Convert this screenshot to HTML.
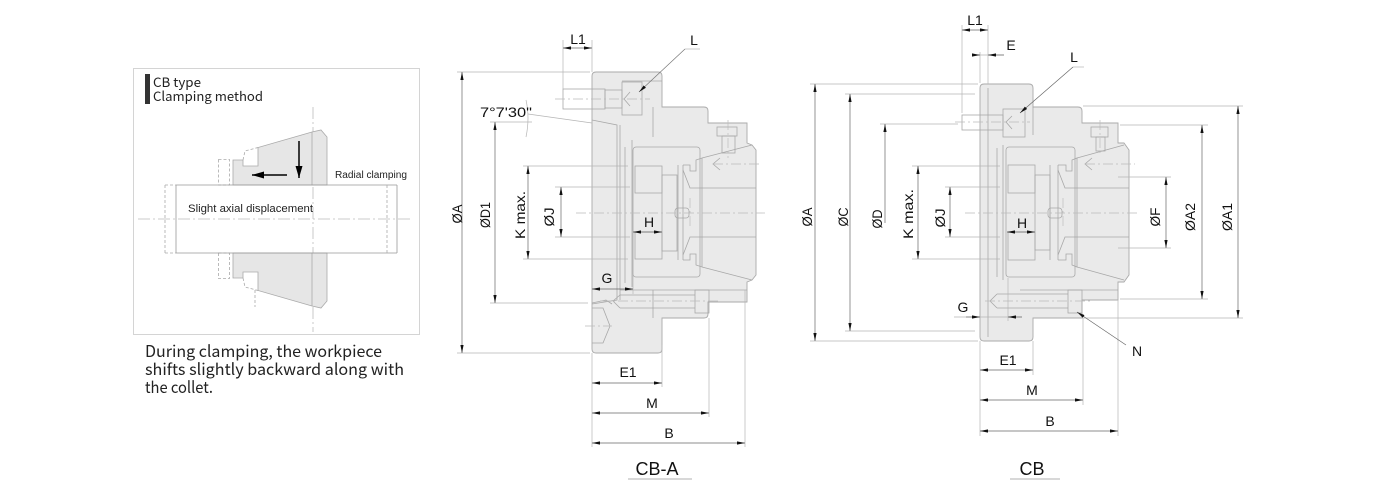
<!DOCTYPE html>
<html><head><meta charset="utf-8"><style>
html,body{margin:0;padding:0;background:#fff;}
svg{display:block;}
</style></head><body>
<svg width="1376" height="501" viewBox="0 0 1376 501" xmlns="http://www.w3.org/2000/svg">
<defs>
<marker id="a" viewBox="0 0 8 6" refX="8" refY="3" markerWidth="8" markerHeight="6" markerUnits="userSpaceOnUse" orient="auto-start-reverse"><path d="M0,1.4 L8,3 L0,4.6z" fill="#111"/></marker>
<marker id="big" viewBox="0 0 12 8" refX="12" refY="4" markerWidth="12" markerHeight="8" markerUnits="userSpaceOnUse" orient="auto-start-reverse"><path d="M0,0.5 L12,4 L0,7.5z" fill="#000"/></marker>
</defs>
<rect width="1376" height="501" fill="#fff"/>

<!-- ============ LEFT PANEL ============ -->
<rect x="133.5" y="68.5" width="286" height="266" fill="none" stroke="#d4d4d4" stroke-width="1"/>
<rect x="145" y="74" width="5" height="30" fill="#333"/>
<text x="153" y="87" font-family="'Noto Sans CJK JP','Liberation Sans',sans-serif" font-size="13" fill="#222" textLength="48" lengthAdjust="spacingAndGlyphs">CB type</text>
<text x="153" y="101" font-family="'Noto Sans CJK JP','Liberation Sans',sans-serif" font-size="13" fill="#222" textLength="110" lengthAdjust="spacingAndGlyphs">Clamping method</text>

<!-- center lines -->
<line x1="138" y1="219" x2="410" y2="219" stroke="#bbb" stroke-width="0.8" stroke-dasharray="12,3,2,3"/>
<line x1="313" y1="107" x2="313" y2="332" stroke="#bbb" stroke-width="0.8" stroke-dasharray="12,3,2,3"/>

<!-- collet upper -->
<path d="M233,185 L233,160 L243,160 L243,166 L258,166 L258,147.5 L312,132 L321,130 L327,137 L327,185 Z" fill="#e6e6e6" stroke="#aaa" stroke-width="0.8"/>
<path d="M233,253 L233,278 L243,278 L243,272 L258,272 L258,290.5 L312,306 L321,308 L327,301 L327,253 Z" fill="#e6e6e6" stroke="#aaa" stroke-width="0.8"/>
<g fill="none" stroke="#aaa" stroke-width="0.8" stroke-dasharray="3,2">
 <rect x="218.5" y="159.5" width="11" height="25.5"/>
 <rect x="218.5" y="253" width="11" height="25.5"/>
 <path d="M243,160 L245,151 L258,147.5"/>
 <path d="M243,278 L245,287 L258,290.5"/>
 <line x1="255" y1="290" x2="255" y2="307"/>
</g>
<line x1="312" y1="132" x2="312" y2="185" stroke="#aaa" stroke-width="0.8"/>
<line x1="312" y1="253" x2="312" y2="306" stroke="#aaa" stroke-width="0.8"/>

<!-- workpiece -->
<g fill="none" stroke="#999" stroke-width="0.8">
 <line x1="176" y1="185" x2="397" y2="185"/>
 <line x1="176" y1="253" x2="397" y2="253"/>
 <line x1="176" y1="185" x2="176" y2="253"/>
 <line x1="397" y1="185" x2="397" y2="253"/>
</g>
<g fill="none" stroke="#aaa" stroke-width="0.8" stroke-dasharray="3,2">
 <line x1="165" y1="185" x2="176" y2="185"/>
 <line x1="165" y1="253" x2="176" y2="253"/>
 <line x1="165" y1="185" x2="165" y2="253"/>
 <line x1="387" y1="185" x2="387" y2="253"/>
</g>
<!-- arrows -->
<line x1="299" y1="141" x2="299" y2="178" stroke="#000" stroke-width="1.5" marker-end="url(#big)"/>
<line x1="287" y1="175" x2="252" y2="175" stroke="#000" stroke-width="1.5" marker-end="url(#big)"/>

<text x="335" y="178" font-family="'Liberation Sans',sans-serif" font-size="10" fill="#222" textLength="72" lengthAdjust="spacingAndGlyphs">Radial clamping</text>
<text x="188" y="212" font-family="'Liberation Sans',sans-serif" font-size="11.3" fill="#222" textLength="125" lengthAdjust="spacingAndGlyphs">Slight axial displacement</text>

<g font-family="'Noto Sans CJK JP','Liberation Sans',sans-serif" font-size="16" fill="#222">
<text x="145" y="357" textLength="237" lengthAdjust="spacingAndGlyphs">During clamping, the workpiece</text>
<text x="145" y="375" textLength="259" lengthAdjust="spacingAndGlyphs">shifts slightly backward along with</text>
<text x="145" y="393" textLength="68" lengthAdjust="spacingAndGlyphs">the collet.</text>
</g>

<!-- ============ CB-A ============ -->
<path d="M592,76 Q592,72 596,72 L658,72 Q662,72 662,76 L662,107 L704,107 Q708,107 708,111 L708,123 L747,123 L747,143 L752,145 L756,150 L756,275 L752,280 L747,282 L747,302 L708,302 L708,314 Q708,318 704,318 L662,318 L662,349 Q662,353 658,353 L596,353 Q592,353 592,349 Z" fill="#eaeaea" stroke="#aaa" stroke-width="0.9"/>
<g fill="none" stroke="#a8a8a8" stroke-width="0.8">
 <path d="M592,120 L617,125 L617,300 L592,304"/>
 <line x1="620" y1="125" x2="620" y2="300"/>
 <line x1="625" y1="147" x2="625" y2="283"/>
 <line x1="632" y1="140" x2="632" y2="287"/>
 <rect x="633" y="147" width="67" height="130" rx="3"/>
 <rect x="635" y="166" width="27" height="27"/>
 <rect x="635" y="232" width="27" height="27"/>
 <rect x="662" y="175" width="15" height="76"/>
 <path d="M678,165 L678,260 M683,165 L683,260"/>
 <path d="M683,165 L690,165 L690,171 L696,171 L696,160 L702,158 L702,267 L696,265 L696,254 L690,254 L690,260 L683,260"/>
 <path d="M683,170 L690,188 L756,188 M683,255 L690,237 L756,237"/>
 <path d="M702,158 L752,145 M702,267 L752,280"/>
 <rect x="675" y="208" width="14" height="10" rx="3"/>
 <line x1="653" y1="107" x2="653" y2="137"/>
 <line x1="653" y1="290" x2="653" y2="318"/>
 <line x1="622" y1="81" x2="662" y2="81"/>
 <line x1="620" y1="290" x2="747" y2="290"/>
 <!-- top bolt -->
 <rect x="563" y="89" width="42" height="20"/>
 <rect x="605" y="90" width="17" height="18"/>
 <rect x="622" y="82" width="20" height="33"/>
 <path d="M630,92 L624,99 L630,106"/>
 <!-- right screw -->
 <rect x="717" y="127" width="20" height="9"/>
 <rect x="722" y="136" width="13" height="17"/>
 <path d="M720,158 L713,164 L720,170"/>
 <!-- bottom bolt -->
 <path d="M620,295 L695,295 M620,308 L695,308 M613,301 L620,295 M613,301 L620,308"/>
 <rect x="695" y="290" width="14" height="23"/>
 <!-- bottom socket -->
 <path d="M592,308 L603,308 L610,326 L603,343 L592,343"/>
 <path d="M592,303 L606,300 L612,304"/>
</g>
<g fill="none" stroke="#bbb" stroke-width="0.7" stroke-dasharray="10,3,2,3">
 <line x1="576" y1="213" x2="765" y2="213"/>
 <line x1="555" y1="99" x2="650" y2="99"/>
 <line x1="713" y1="164" x2="762" y2="164"/>
 <line x1="728" y1="120" x2="728" y2="158"/>
 <line x1="600" y1="301" x2="720" y2="301"/>
 <line x1="585" y1="326" x2="612" y2="326"/>
 <line x1="690" y1="198" x2="690" y2="228"/>
</g>

<!-- CB-A extension lines -->
<g stroke="#b5b5b5" stroke-width="0.7" fill="none">
 <line x1="457" y1="72" x2="590" y2="72"/>
 <line x1="457" y1="353" x2="590" y2="353"/>
 <line x1="490" y1="122" x2="532" y2="122"/>
 <line x1="528" y1="114" x2="592" y2="123"/>
 <path d="M526,100 Q530,118 526,137"/>
 <line x1="490" y1="303" x2="588" y2="303"/>
 <line x1="523" y1="166" x2="628" y2="166"/>
 <line x1="523" y1="259" x2="628" y2="259"/>
 <line x1="555" y1="187" x2="630" y2="187"/>
 <line x1="555" y1="237" x2="630" y2="237"/>
 <line x1="563" y1="40" x2="563" y2="89"/>
 <line x1="592" y1="40" x2="592" y2="72"/>
 <line x1="592" y1="353" x2="592" y2="447"/>
 <line x1="662" y1="345" x2="662" y2="387"/>
 <line x1="709" y1="318" x2="709" y2="417"/>
 <line x1="745" y1="290" x2="745" y2="447"/>
 <line x1="633" y1="270" x2="633" y2="294"/>
 <line x1="685" y1="49" x2="700" y2="49"/>
</g>
<!-- CB-A dimension lines -->
<g stroke="#666" stroke-width="0.7" fill="none" marker-start="url(#a)" marker-end="url(#a)">
 <line x1="563" y1="48" x2="592" y2="48"/>
 <line x1="462" y1="72" x2="462" y2="353"/>
 <line x1="495" y1="122" x2="495" y2="303"/>
 <line x1="528" y1="166" x2="528" y2="259"/>
 <line x1="561" y1="187" x2="561" y2="237"/>
 <line x1="633" y1="232" x2="662" y2="232"/>
 <line x1="592" y1="289" x2="633" y2="289"/>
 <line x1="592" y1="383" x2="662" y2="383"/>
 <line x1="592" y1="413" x2="709" y2="413"/>
 <line x1="592" y1="443" x2="745" y2="443"/>
</g>
<line x1="685" y1="49" x2="639" y2="92" stroke="#777" stroke-width="0.7" marker-end="url(#a)"/>
<line x1="628" y1="479" x2="692" y2="479" stroke="#999" stroke-width="0.8"/>

<g font-family="'Liberation Sans',sans-serif" font-size="14" fill="#111" text-anchor="middle">
 <text x="578" y="44">L1</text>
 <text x="694" y="45">L</text>
 <text x="506" y="117" textLength="52" lengthAdjust="spacingAndGlyphs">7°7'30"</text>
 <text x="649" y="227">H</text>
 <text x="607" y="283">G</text>
 <text x="628" y="377">E1</text>
 <text x="652" y="408">M</text>
 <text x="669" y="438">B</text>
 <text x="657" y="475" font-size="18">CB-A</text>
 <text transform="translate(462,214) rotate(-90)" textLength="19" lengthAdjust="spacingAndGlyphs">ØA</text>
 <text transform="translate(490,215) rotate(-90)" textLength="26" lengthAdjust="spacingAndGlyphs">ØD1</text>
 <text transform="translate(525,215) rotate(-90)" textLength="48" lengthAdjust="spacingAndGlyphs">K max.</text>
 <text transform="translate(554,217) rotate(-90)" textLength="19" lengthAdjust="spacingAndGlyphs">ØJ</text>
</g>

<!-- ============ CB ============ -->
<path d="M980,88 Q980,84 984,84 L1029,84 Q1033,84 1033,88 L1033,107 L1078,107 Q1082,107 1082,111 L1082,123 L1118,123 L1118,143 L1124,143 L1129,150 L1129,275 L1124,282 L1118,282 L1118,300 L1082,300 L1082,318 L1033,318 L1033,337 Q1033,341 1029,341 L984,341 Q980,341 980,337 Z" fill="#eaeaea" stroke="#aaa" stroke-width="0.9"/>
<g fill="none" stroke="#a8a8a8" stroke-width="0.8">
 <line x1="988" y1="88" x2="988" y2="337"/>
 <line x1="997" y1="148" x2="997" y2="277"/>
 <line x1="1003" y1="145" x2="1003" y2="280"/>
 <rect x="1006" y="147" width="69" height="130" rx="3"/>
 <rect x="1008" y="165" width="27" height="28"/>
 <rect x="1008" y="232" width="27" height="28"/>
 <rect x="1035" y="175" width="15" height="75"/>
 <path d="M1050,165 L1050,260 M1058,165 L1058,260"/>
 <path d="M1058,165 L1066,165 L1066,171 L1072,171 L1072,160 L1077,158 L1077,267 L1072,265 L1072,254 L1066,254 L1066,260 L1058,260"/>
 <path d="M1058,170 L1065,188 L1129,188 M1058,255 L1065,237 L1129,237"/>
 <path d="M1077,158 L1124,145 M1077,267 L1124,280"/>
 <rect x="1048" y="208" width="14" height="10" rx="3"/>
 <line x1="1033" y1="107" x2="1033" y2="135"/>
 <line x1="1020" y1="290" x2="1118" y2="290"/>
 <!-- top bolt -->
 <rect x="962" y="115" width="41" height="15"/>
 <rect x="1003" y="109" width="22" height="28"/>
 <path d="M1012,116 L1006,122 L1012,129"/>
 <!-- right screw -->
 <rect x="1091" y="127" width="17" height="10"/>
 <rect x="1096" y="137" width="9" height="14"/>
 <path d="M1092,158 L1085,164 L1092,170"/>
 <!-- bottom bolt -->
 <path d="M997,294 L1068,294 M997,308 L1068,308 M990,301 L997,294 M990,301 L997,308"/>
 <rect x="1068" y="290" width="14" height="23"/>
</g>
<g fill="none" stroke="#bbb" stroke-width="0.7" stroke-dasharray="10,3,2,3">
 <line x1="965" y1="213" x2="1140" y2="213"/>
 <line x1="955" y1="122" x2="1030" y2="122"/>
 <line x1="1085" y1="164" x2="1135" y2="164"/>
 <line x1="1100" y1="120" x2="1100" y2="156"/>
 <line x1="985" y1="301" x2="1090" y2="301"/>
 <line x1="1063" y1="198" x2="1063" y2="228"/>
</g>

<!-- CB extension lines -->
<g stroke="#b5b5b5" stroke-width="0.7" fill="none">
 <line x1="810" y1="84" x2="978" y2="84"/>
 <line x1="810" y1="341" x2="978" y2="341"/>
 <line x1="845" y1="94" x2="975" y2="94"/>
 <line x1="845" y1="331" x2="975" y2="331"/>
 <line x1="880" y1="124" x2="958" y2="124"/>
 <line x1="912" y1="166" x2="1000" y2="166"/>
 <line x1="912" y1="259" x2="1000" y2="259"/>
 <line x1="945" y1="187" x2="1000" y2="187"/>
 <line x1="945" y1="237" x2="1000" y2="237"/>
 <line x1="1118" y1="177" x2="1171" y2="177"/>
 <line x1="1118" y1="248" x2="1171" y2="248"/>
 <line x1="1120" y1="125" x2="1208" y2="125"/>
 <line x1="1120" y1="299" x2="1208" y2="299"/>
 <line x1="1083" y1="106" x2="1243" y2="106"/>
 <line x1="1083" y1="318" x2="1243" y2="318"/>
 <line x1="962" y1="25" x2="962" y2="113"/>
 <line x1="988" y1="25" x2="988" y2="84"/>
 <line x1="980" y1="52" x2="980" y2="83"/>
 <line x1="980" y1="341" x2="980" y2="436"/>
 <line x1="1033" y1="341" x2="1033" y2="375"/>
 <line x1="1083" y1="318" x2="1083" y2="405"/>
 <line x1="1118" y1="300" x2="1118" y2="436"/>
 <line x1="1008" y1="278" x2="1008" y2="321"/>
 <line x1="1073" y1="67" x2="1084" y2="67"/>
 <line x1="972" y1="55" x2="1004" y2="55"/>
 <line x1="954" y1="317" x2="1022" y2="317"/>
</g>
<g stroke="#666" stroke-width="0.7" fill="none" marker-start="url(#a)" marker-end="url(#a)">
 <line x1="962" y1="30" x2="988" y2="30"/>
 <line x1="815" y1="84" x2="815" y2="341"/>
 <line x1="850" y1="94" x2="850" y2="331"/>
 <line x1="918" y1="166" x2="918" y2="259"/>
 <line x1="950" y1="187" x2="950" y2="237"/>
 <line x1="1007" y1="232" x2="1035" y2="232"/>
 <line x1="980" y1="370" x2="1033" y2="370"/>
 <line x1="980" y1="400" x2="1083" y2="400"/>
 <line x1="980" y1="431" x2="1118" y2="431"/>
 <line x1="1166" y1="177" x2="1166" y2="248"/>
 <line x1="1202" y1="125" x2="1202" y2="299"/>
 <line x1="1238" y1="106" x2="1238" y2="318"/>
</g>
<g stroke="#666" stroke-width="0.7" fill="none">
 <line x1="885" y1="223" x2="885" y2="124" marker-end="url(#a)"/>
 <line x1="972" y1="55" x2="980" y2="55" marker-end="url(#a)"/>
 <line x1="1004" y1="55" x2="988" y2="55" marker-end="url(#a)"/>
 <line x1="966" y1="317" x2="980" y2="317" marker-end="url(#a)"/>
 <line x1="1022" y1="317" x2="1008" y2="317" marker-end="url(#a)"/>
 <line x1="1073" y1="67" x2="1020" y2="113" marker-end="url(#a)"/>
 <line x1="1126" y1="345" x2="1077" y2="312" marker-end="url(#a)"/>
</g>
<line x1="1010" y1="479" x2="1060" y2="479" stroke="#999" stroke-width="0.8"/>

<g font-family="'Liberation Sans',sans-serif" font-size="14" fill="#111" text-anchor="middle">
 <text x="975" y="25">L1</text>
 <text x="1011" y="50">E</text>
 <text x="1074" y="62">L</text>
 <text x="1022" y="228">H</text>
 <text x="963" y="312">G</text>
 <text x="1008" y="365">E1</text>
 <text x="1032" y="395">M</text>
 <text x="1050" y="426">B</text>
 <text x="1137" y="356">N</text>
 <text x="1032" y="475" font-size="18">CB</text>
 <text transform="translate(812,217) rotate(-90)" textLength="19" lengthAdjust="spacingAndGlyphs">ØA</text>
 <text transform="translate(848,217) rotate(-90)" textLength="19" lengthAdjust="spacingAndGlyphs">ØC</text>
 <text transform="translate(882,219) rotate(-90)" textLength="19" lengthAdjust="spacingAndGlyphs">ØD</text>
 <text transform="translate(913,214) rotate(-90)" textLength="50" lengthAdjust="spacingAndGlyphs">K max.</text>
 <text transform="translate(945,218) rotate(-90)" textLength="19" lengthAdjust="spacingAndGlyphs">ØJ</text>
 <text transform="translate(1160,217) rotate(-90)" textLength="19" lengthAdjust="spacingAndGlyphs">ØF</text>
 <text transform="translate(1195,217) rotate(-90)" textLength="28" lengthAdjust="spacingAndGlyphs">ØA2</text>
 <text transform="translate(1232,217) rotate(-90)" textLength="28" lengthAdjust="spacingAndGlyphs">ØA1</text>
</g>
</svg>
</body></html>
